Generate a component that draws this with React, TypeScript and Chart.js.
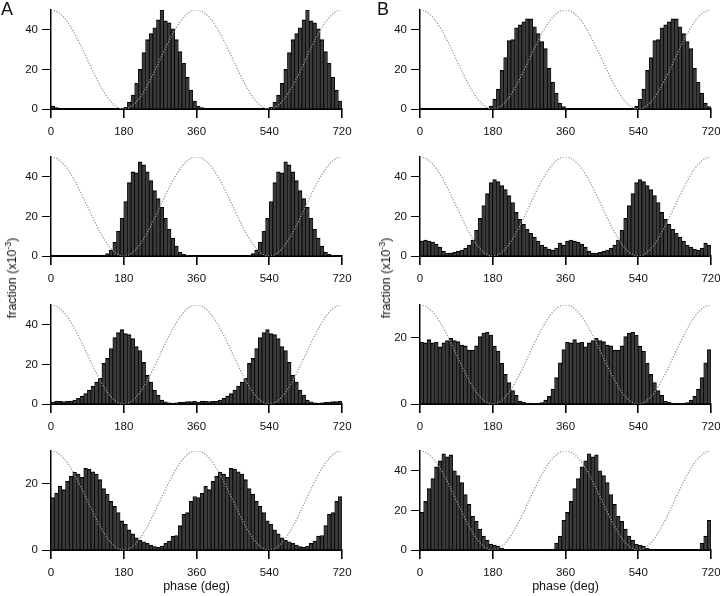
import React, { useEffect, useRef } from 'react';
import { Chart, registerables } from 'chart.js';

Chart.register(...registerables);

const FONT = '"Liberation Sans", Arial, Helvetica, sans-serif';

// Phase histograms: 40 bins of 9 deg per stimulus cycle; the figure plots two cycles (0-720 deg).
const BIN_WIDTH_DEG = 9;
const PHASE_TICKS = [0, 180, 360, 540, 720];
const Y_TICKS_50 = [0, 20, 40];
const Y_TICKS_30 = [0, 20];

const A1_CYCLE = [1.5, 0.7, 0, 0, 0, 0, 0, 0, 0, 0, 0, 0, 0, 0, 0, 0, 0, 0, 0, 0,
  0.8, 3.5, 7, 13, 20, 28.5, 35, 38, 41, 45, 50, 44.5, 43.5, 40.5, 35, 29, 23, 16, 9.5, 4];
const B1_CYCLE = [0, 0, 0, 0, 0, 0, 0, 0, 0, 0, 0, 0, 0, 0, 0, 0, 0, 0, 0,
  1.5, 5, 10, 19.5, 26, 34.5, 35, 41, 42.5, 44, 45.5, 45.5, 41.5, 38, 34, 30.5, 20.5, 13.5, 8, 3, 1.2];
const A2_CYCLE = [0, 0, 0, 0, 0, 0, 0, 0, 0, 0, 0, 0, 0, 0,
  0.5, 1.2, 3, 7, 12.5, 19, 27.5, 37, 42.5, 42, 47.5, 46, 42.5, 38, 33, 29, 24.5, 19, 13.5, 9, 5, 2, 0.8, 0.3, 0, 0];
const B2_CYCLE = [7.5, 8, 7.5, 7, 6, 4.5, 2.5, 1.5, 1.5, 1.8, 2.3, 3, 4, 5.5, 8, 13, 19, 25.5, 31.5, 37,
  38.5, 37.5, 35.5, 33.5, 30.5, 27, 22, 18.5, 16, 13.5, 11.5, 9.5, 7.5, 5.5, 4.5, 3.5, 3, 4, 6.5, 5.5];
const A3_CYCLE = [1.0, 1.5, 1.3, 1.2, 1.3, 1.5, 2.0, 2.8, 4.0, 5.2, 7.0, 9.0, 11.0, 13.0, 20.5, 23.0, 28.0, 33.5, 36.0, 37.5,
  35.5, 35.0, 33.0, 29.0, 27.0, 21.0, 14.5, 11.0, 7.0, 4.5, 2.0, 1.1, 0.6, 0.5, 0.6, 0.8, 1.0, 1.2, 1.2, 1.3];
const B3_CYCLE = [18.7, 18.5, 19.5, 18.5, 18.7, 17.3, 18.5, 19.2, 19.9, 19.2, 18.9, 17.8, 17.6, 16.3, 16.3, 17.6, 20.4, 21.5, 21.7, 20.9,
  17.5, 16, 12.4, 9, 6.5, 4.1, 2.6, 0.9, 0.5, 0.3, 0.3, 0.2, 0.3, 0.4, 1.2, 2.3, 4.5, 8, 12.5, 16.5];
const A4_CYCLE = [15.9, 17.2, 19.3, 18.3, 20.8, 22.3, 23.5, 23, 22, 24.7, 24.5, 23.7, 23, 21.3, 18.6, 16.9, 14.7, 13.2, 11.3, 8.8,
  7.8, 6.1, 4.9, 3.7, 2.9, 2.5, 2.0, 1.5, 1.0, 0.8, 1.2, 2.0, 2.7, 4.2, 4.4, 7.4, 10.8, 11.3, 14.7, 16.2];
const B4_CYCLE = [19, 24.5, 31, 36, 42, 45, 48.5, 47, 48, 40, 37.5, 34, 28, 23, 17, 14.5, 10.5, 7, 5, 3, 2.5, 2, 1,
  0, 0, 0, 0, 0, 0, 0, 0, 0, 0, 0, 0, 0, 0.5, 3.5, 7, 15];

// layout (pixels)
const COL_LEFT = [51, 420];
const ROW_TOP = [7, 154, 302, 448];
const PLOT_W = 291;
const PLOT_H = 102;
const AXIS_W = 45;
const AXIS_H = 34;
const PAD_T = 8;
const PAD_R = 20;

type PanelDef = { cycle: number[]; yMax: number; yTicks: number[]; col: number; row: number };

const PANELS: PanelDef[] = [
  { cycle: A1_CYCLE, yMax: 50, yTicks: Y_TICKS_50, col: 0, row: 0 },
  { cycle: B1_CYCLE, yMax: 50, yTicks: Y_TICKS_50, col: 1, row: 0 },
  { cycle: A2_CYCLE, yMax: 50, yTicks: Y_TICKS_50, col: 0, row: 1 },
  { cycle: B2_CYCLE, yMax: 50, yTicks: Y_TICKS_50, col: 1, row: 1 },
  { cycle: A3_CYCLE, yMax: 50, yTicks: Y_TICKS_50, col: 0, row: 2 },
  { cycle: B3_CYCLE, yMax: 30, yTicks: Y_TICKS_30, col: 1, row: 2 },
  { cycle: A4_CYCLE, yMax: 30, yTicks: Y_TICKS_30, col: 0, row: 3 },
  { cycle: B4_CYCLE, yMax: 50, yTicks: Y_TICKS_50, col: 1, row: 3 },
];

function Panel({ def }: { def: PanelDef }) {
  const ref = useRef<HTMLCanvasElement>(null);
  useEffect(() => {
    const values = [...def.cycle, ...def.cycle];
    const bars = values.map((v, i) => ({ x: i * BIN_WIDTH_DEG + BIN_WIDTH_DEG / 2, y: v }));
    // stimulus phase reference (cosine, peak at 0/360/720 deg), scaled to the axis height
    const stim: { x: number; y: number }[] = [];
    for (let d = 0; d <= 720; d += 2) {
      stim.push({ x: d, y: (def.yMax * (1 + Math.cos((d * Math.PI) / 180))) / 2 });
    }
    const tickFont = { family: FONT, size: 11.5 };
    const chart = new Chart(ref.current as HTMLCanvasElement, {
      type: 'bar',
      data: {
        datasets: [
          {
            type: 'line',
            data: stim,
            borderColor: '#959595',
            borderWidth: 1.3,
            borderDash: [1.2, 1.6],
            pointRadius: 0,
            fill: false,
            tension: 0,
            order: 0,
          } as any,
          {
            type: 'bar',
            data: bars,
            backgroundColor: '#3a3a3a',
            borderColor: '#000000',
            borderWidth: { top: 1.2, left: 0.8, right: 0.8, bottom: 0 },
            barPercentage: 1,
            categoryPercentage: 1,
            order: 1,
          } as any,
        ],
      },
      options: {
        responsive: false,
        maintainAspectRatio: false,
        animation: false,
        events: [],
        layout: { padding: { top: PAD_T, right: PAD_R, left: 0, bottom: 0 } },
        plugins: { legend: { display: false }, tooltip: { enabled: false } },
        scales: {
          x: {
            type: 'linear',
            min: 0,
            max: 720,
            offset: false,
            afterBuildTicks: (s: any) => {
              s.ticks = PHASE_TICKS.map((value) => ({ value }));
            },
            afterFit: (s: any) => {
              s.height = AXIS_H;
            },
            grid: { display: true, drawOnChartArea: false, drawTicks: true, tickLength: 9, color: '#000', lineWidth: 1.6, offset: false },
            border: { display: true, color: '#000', width: 2 },
            ticks: { autoSkip: false, maxRotation: 0, padding: 7, color: '#111', font: tickFont },
          },
          y: {
            type: 'linear',
            min: 0,
            max: def.yMax,
            afterBuildTicks: (s: any) => {
              s.ticks = def.yTicks.map((value) => ({ value }));
            },
            afterFit: (s: any) => {
              s.width = AXIS_W;
            },
            grid: { display: true, drawOnChartArea: false, drawTicks: true, tickLength: 9, color: '#000', lineWidth: 1 },
            border: { display: true, color: '#000', width: 1.5 },
            ticks: { padding: 4, color: '#111', font: tickFont },
          },
        },
      } as any,
    });
    return () => chart.destroy();
  }, [def]);
  const left = COL_LEFT[def.col] - AXIS_W;
  const top = ROW_TOP[def.row] - PAD_T;
  return (
    <canvas
      ref={ref}
      width={AXIS_W + PLOT_W + PAD_R}
      height={PAD_T + PLOT_H + AXIS_H}
      style={{ position: 'absolute', left, top }}
    />
  );
}

function YTitle({ cx, cy }: { cx: number; cy: number }) {
  return (
    <div
      style={{
        position: 'absolute',
        left: cx,
        top: cy,
        transform: 'translate(-50%, -50%) rotate(-90deg)',
        whiteSpace: 'nowrap',
        fontFamily: FONT,
        fontSize: 12.5,
        lineHeight: '14px',
        color: '#111',
      }}
    >
      fraction (x10<sup style={{ fontSize: '70%', verticalAlign: 'super', lineHeight: 0 }}>-3</sup>)
    </div>
  );
}

function XTitle({ cx }: { cx: number }) {
  return (
    <div
      style={{
        position: 'absolute',
        left: cx,
        top: 580,
        transform: 'translateX(-50%)',
        whiteSpace: 'nowrap',
        fontFamily: FONT,
        fontSize: 12.5,
        lineHeight: '12.5px',
        color: '#111',
      }}
    >
      phase (deg)
    </div>
  );
}

function Letter({ x, text }: { x: number; text: string }) {
  return (
    <div style={{ position: 'absolute', left: x, top: 0, fontFamily: FONT, fontSize: 18, lineHeight: '18px', color: '#111' }}>
      {text}
    </div>
  );
}

export default function App() {
  return (
    <div style={{ position: 'absolute', left: 0, top: 0, width: 720, height: 596, background: '#fff', overflow: 'hidden' }}>
      {PANELS.map((p, i) => (
        <Panel key={i} def={p} />
      ))}
      <Letter x={1} text="A" />
      <Letter x={377} text="B" />
      <YTitle cx={11.5} cy={278} />
      <YTitle cx={386} cy={278} />
      <XTitle cx={COL_LEFT[0] + PLOT_W / 2} />
      <XTitle cx={COL_LEFT[1] + PLOT_W / 2} />
    </div>
  );
}
